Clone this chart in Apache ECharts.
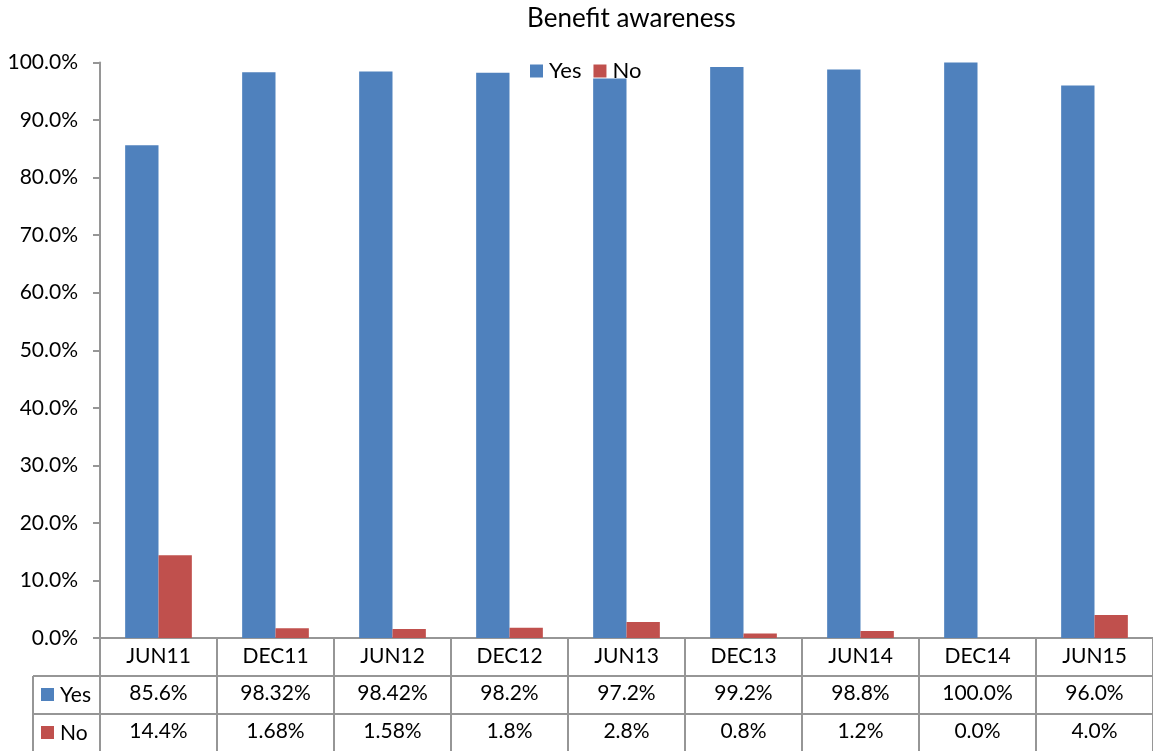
<!DOCTYPE html>
<html>
<head>
<meta charset="utf-8">
<title>Benefit awareness</title>
<script src="https://cdn.jsdelivr.net/npm/echarts@6/dist/echarts.min.js"></script>
<style>
  html, body { margin: 0; padding: 0; background: #fff; }
  #chart { width: 1153px; height: 751px; }
</style>
</head>
<body>
<div id="chart"></div>
<script>
// Survey periods and answer shares (percent)
const categories = ['JUN11', 'DEC11', 'JUN12', 'DEC12', 'JUN13', 'DEC13', 'JUN14', 'DEC14', 'JUN15'];
const yesValues = [85.6, 98.32, 98.42, 98.2, 97.2, 99.2, 98.8, 100.0, 96.0];
const noValues = [14.4, 1.68, 1.58, 1.8, 2.8, 0.8, 1.2, 0.0, 4.0];
const seriesNames = ['Yes', 'No'];
const seriesColors = ['#4F81BD', '#C0504D'];

const FONT = 'Lato, "Open Sans", sans-serif';
const FS = 21;
const LINE = '#969696';
const W = 1153, H = 751;
const GRID_LEFT = 100, GRID_TOP = 62.5, GRID_BOTTOM = 113;
const ROW_H = 38;
const TABLE_LEFT = 33;

// at least one decimal place, otherwise as many as the value carries
function fmt(v) {
  return (Number.isInteger(v) ? v.toFixed(1) : String(v)) + '%';
}

const chart = echarts.init(document.getElementById('chart'), null, { renderer: 'canvas' });

const axisY0 = H - GRID_BOTTOM;

// row header cells of the data table (left of the plot)
const rowHeader = [];
[0, 1].forEach(function (i) {
  const top = axisY0 + ROW_H * (i + 1);
  rowHeader.push({
    type: 'line', silent: true,
    shape: { x1: TABLE_LEFT, y1: top, x2: GRID_LEFT, y2: top },
    style: { stroke: LINE, lineWidth: 2 }
  });
  rowHeader.push({
    type: 'rect', silent: true,
    shape: { x: 41, y: top + 12, width: 13, height: 13 },
    style: { fill: seriesColors[i] }
  });
  rowHeader.push({
    type: 'text', silent: true,
    x: 60, y: top + ROW_H / 2,
    style: { text: seriesNames[i], font: FS + 'px ' + FONT, fill: '#000', textVerticalAlign: 'middle' }
  });
});
rowHeader.push({
  type: 'line', silent: true,
  shape: { x1: TABLE_LEFT, y1: axisY0 + ROW_H, x2: TABLE_LEFT, y2: H },
  style: { stroke: LINE, lineWidth: 2 }
});

function tableAxis(offset, values) {
  return {
    type: 'category',
    data: categories,
    position: 'bottom',
    offset: offset,
    axisLine: { show: true, lineStyle: { color: LINE, width: 2 } },
    axisTick: { show: false },
    axisLabel: {
      interval: 0, margin: 7,
      fontFamily: FONT, fontSize: FS, color: '#000',
      formatter: function (val, idx) { return fmt(values[idx]); }
    }
  };
}

chart.setOption({
  animation: false,
  backgroundColor: '#fff',
  title: {
    text: 'Benefit awareness',
    left: (GRID_LEFT + W) / 2, textAlign: 'center',
    top: 1,
    textStyle: { fontFamily: FONT, fontSize: 26, fontWeight: 'normal', color: '#000' }
  },
  legend: {
    data: seriesNames,
    left: 530, top: 60, padding: 0,
    icon: 'rect', itemWidth: 13, itemHeight: 13, itemGap: 12,
    textStyle: { fontFamily: FONT, fontSize: 22, color: '#000', padding: [0, 0, 0, 1] }
  },
  grid: { left: GRID_LEFT, right: 0, top: GRID_TOP, bottom: GRID_BOTTOM, containLabel: false },
  xAxis: [
    {
      type: 'category',
      data: categories,
      position: 'bottom',
      axisLine: { show: true, lineStyle: { color: LINE, width: 2 } },
      axisTick: { show: true, interval: 0, length: GRID_BOTTOM, lineStyle: { color: LINE, width: 2 } },
      axisLabel: { interval: 0, margin: 8, fontFamily: FONT, fontSize: FS, color: '#000' }
    },
    tableAxis(ROW_H, yesValues),
    tableAxis(ROW_H * 2, noValues)
  ],
  yAxis: {
    type: 'value',
    min: 0, max: 100, interval: 10,
    axisLine: { show: true, lineStyle: { color: LINE, width: 2 } },
    axisTick: { show: true, length: 7, lineStyle: { color: LINE, width: 2 } },
    splitLine: { show: false },
    axisLabel: {
      margin: 22, fontFamily: FONT, fontSize: FS, color: '#000',
      formatter: function (v) { return v.toFixed(1) + '%'; }
    }
  },
  series: [
    {
      name: seriesNames[0], type: 'bar', data: yesValues,
      xAxisIndex: 0, barGap: '0%', barCategoryGap: '43%',
      itemStyle: { color: seriesColors[0] }
    },
    {
      name: seriesNames[1], type: 'bar', data: noValues,
      xAxisIndex: 0,
      itemStyle: { color: seriesColors[1] }
    }
  ],
  graphic: rowHeader
});
</script>
</body>
</html>
